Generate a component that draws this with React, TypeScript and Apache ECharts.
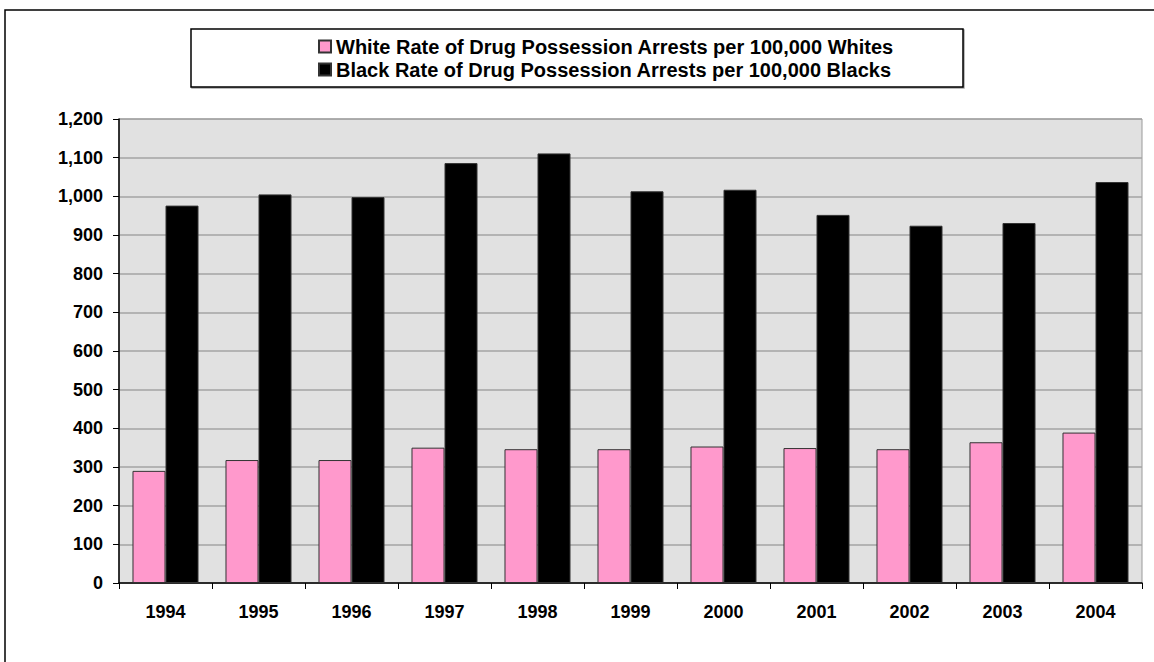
import React, { useEffect, useRef } from "react";
import * as echarts from "echarts";

const years = ["1994", "1995", "1996", "1997", "1998", "1999", "2000", "2001", "2002", "2003", "2004"];
const whiteRate = [290, 318, 318, 350, 346, 346, 353, 349, 346, 364, 389];
const blackRate = [976, 1005, 998, 1086, 1111, 1013, 1017, 952, 924, 931, 1037];
const seriesNames = [
  "White Rate of Drug Possession Arrests per 100,000 Whites",
  "Black Rate of Drug Possession Arrests per 100,000 Blacks",
];

const FONT = "'Liberation Sans', Arial, sans-serif";

export default function App() {
  const ref = useRef<HTMLDivElement>(null);
  useEffect(() => {
    if (!ref.current) return;
    const chart = echarts.init(ref.current, undefined, { renderer: "svg" });
    chart.setOption({
      animation: false,
      backgroundColor: "#ffffff",
      textStyle: { fontFamily: FONT },
      graphic: [
        {
          type: "rect",
          shape: { x: 5, y: 10, width: 1300, height: 800 },
          style: { fill: "none", stroke: "#000", lineWidth: 1.5 },
          silent: true,
        },
        {
          type: "rect",
          shape: { x: 191, y: 29, width: 772, height: 58 },
          style: { fill: "#fff", stroke: "#000", lineWidth: 1.5, shadowColor: "rgba(0,0,0,0.35)", shadowOffsetX: 1, shadowOffsetY: 1, shadowBlur: 0 },
          z: -1,
          silent: true,
        },
      ],
      legend: {
        orient: "vertical",
        left: 318,
        top: 35,
        padding: 0,
        itemWidth: 12,
        itemHeight: 12,
        itemGap: 0,
        icon: "rect",
        textStyle: { fontFamily: FONT, fontWeight: "bold", fontSize: 20, lineHeight: 23, color: "#000" },
        data: seriesNames,
        z: 10,
      },
      grid: {
        left: 119,
        right: 12,
        top: 119,
        bottom: 79,
        show: true,
        backgroundColor: "#e1e1e1",
        borderColor: "#9a9a9a",
        borderWidth: 1,
      },
      xAxis: {
        type: "category",
        data: years,
        axisLine: { lineStyle: { color: "#000", width: 1.5 } },
        axisTick: { show: true, length: 6, lineStyle: { color: "#000" } },
        axisLabel: { fontFamily: FONT, fontWeight: "bold", fontSize: 18, color: "#000", margin: 20 },
      },
      yAxis: {
        type: "value",
        min: 0,
        max: 1200,
        interval: 100,
        axisLine: { show: true, lineStyle: { color: "#000", width: 1.5 } },
        axisTick: { show: true, length: 6, lineStyle: { color: "#000" } },
        splitLine: { lineStyle: { color: "#a3a3a3", width: 1.5 } },
        axisLabel: {
          fontFamily: FONT,
          fontWeight: "bold",
          fontSize: 18,
          color: "#000",
          margin: 16,
          formatter: (v: number) => v.toLocaleString("en-US"),
        },
      },
      series: [
        {
          name: seriesNames[0],
          type: "bar",
          data: whiteRate,
          barGap: "0%",
          barCategoryGap: "29%",
          itemStyle: { color: "#ff99cc", borderColor: "#333", borderWidth: 1 },
        },
        {
          name: seriesNames[1],
          type: "bar",
          data: blackRate,
          itemStyle: { color: "#000000", borderColor: "#333", borderWidth: 1 },
        },
      ],
    });
    return () => chart.dispose();
  }, []);
  return <div ref={ref} style={{ width: 1154, height: 662, position: "absolute", left: 0, top: 0 }} />;
}
